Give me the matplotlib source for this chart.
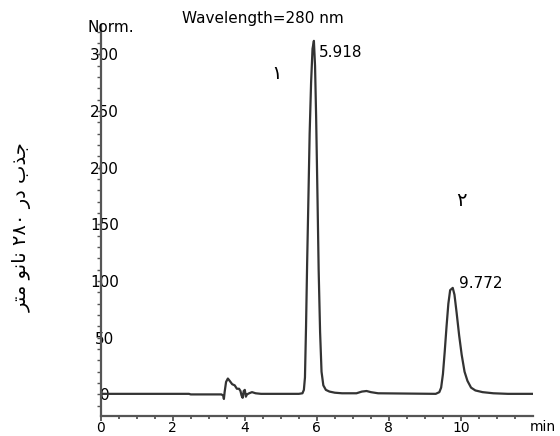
import matplotlib.pyplot as plt
import numpy as np

# chromatogram trace (time in min, signal in Norm.)
times = [0.0, 2.45, 2.5, 3.35, 3.40, 3.42, 3.44, 3.48, 3.53, 3.58, 3.65, 3.72,
         3.78, 3.84, 3.88, 3.91, 3.94, 3.97, 4.00, 4.03, 4.06, 4.12, 4.20, 4.30,
         4.45, 5.50, 5.60, 5.64, 5.67, 5.70, 5.73, 5.77, 5.80, 5.84, 5.88, 5.918,
         5.95, 5.98, 6.02, 6.05, 6.09, 6.13, 6.18, 6.25, 6.35, 6.50, 6.70, 7.10,
         7.25, 7.38, 7.50, 7.70, 9.30, 9.40, 9.45, 9.50, 9.55, 9.60, 9.65, 9.70,
         9.772, 9.82, 9.88, 9.95, 10.02, 10.10, 10.18, 10.28, 10.40, 10.60, 10.90,
         11.30, 12.0]
signal = [0.5, 0.5, 0.0, 0.0, -1, -4, 2, 11, 14, 12, 9, 8,
          5, 5, 3, -1, -3, 3, 4, -2, 0, 1, 2, 1,
          0.5, 0.5, 1, 4, 15, 60, 115, 180, 230, 275, 305, 312,
          290, 245, 170, 110, 55, 20, 8, 4, 2.5, 1.5, 1, 1,
          2.5, 3, 2, 1, 0.5, 2, 6, 18, 38, 60, 80, 92,
          94, 88, 72, 52, 35, 20, 12, 6, 3.5, 2, 1,
          0.5, 0.5]

peak_times = [5.918, 9.772]
peak_heights = [312, 94]
peak_names = ['\u0661', '\u0662']
name_pos = [(4.88, 283), (10.0, 171)]
label_offsets = [(5, -12), (6, 4)]

xticks = [0, 2, 4, 6, 8, 10]
yticks = [0, 50, 100, 150, 200, 250, 300]

# "جذب در ۲۸۰ نانو متر" in shaped, visual (left to right) order
ylabel_txt = ('\uFEAE\uFE98\uFEE3 \uFEEE\uFEE7\uFE8E\uFEE7 '
              '\u0662\u0668\u0660 \uFEAD\uFEA9 \uFE8F\uFEAC\uFE9F')

plt.rcParams['font.family'] = ['DejaVu Sans']

fig = plt.figure(figsize=(5.6, 4.36), dpi=100)
ax = fig.add_axes([0.1798, 0.046, 0.772, 0.8967])

ax.plot(times, signal, color='#333333', lw=1.6)

ax.set_xlim(0, 12)
ax.set_ylim(-19, 326)

for s in ['top', 'right']:
    ax.spines[s].set_visible(False)
for s in ['left', 'bottom']:
    ax.spines[s].set_color('#555555')
    ax.spines[s].set_linewidth(1.6)

ax.set_xticks(xticks)
ax.set_xticks(np.arange(0, 12, 0.5), minor=True)
ax.set_yticks(yticks)
ax.set_yticks(np.arange(-10, 321, 10), minor=True)

ax.tick_params(axis='x', which='major', direction='out', length=3.5, width=1.2,
               color='#444444', labelsize=10, pad=0)
ax.tick_params(axis='x', which='minor', direction='out', length=2, width=1.2,
               color='#444444')
ax.tick_params(axis='y', which='both', direction='out', length=3, width=1,
               color='#555555', labelsize=11, pad=-5.9)
plt.setp(ax.get_yticklabels(), ha='center')

for t, h, off in zip(peak_times, peak_heights, label_offsets):
    ax.annotate('%.3f' % t, xy=(t, h), xytext=off, textcoords='offset pixels',
                ha='left', va='center', fontsize=11)

for nm, (px, py) in zip(peak_names, name_pos):
    ax.text(px, py, nm, ha='center', va='center', fontsize=14)

fig.text(0.47, 0.9587, 'Wavelength=280 nm', ha='center', va='center', fontsize=11)
fig.text(0.157, 0.938, 'Norm.', ha='left', va='center', fontsize=11)
fig.text(0.946, 0.004, 'min', ha='left', va='bottom', fontsize=10)
fig.text(0.039, 0.479, ylabel_txt, rotation=90, ha='center', va='center',
         fontsize=14)

fig.savefig('out.png', dpi=100)
